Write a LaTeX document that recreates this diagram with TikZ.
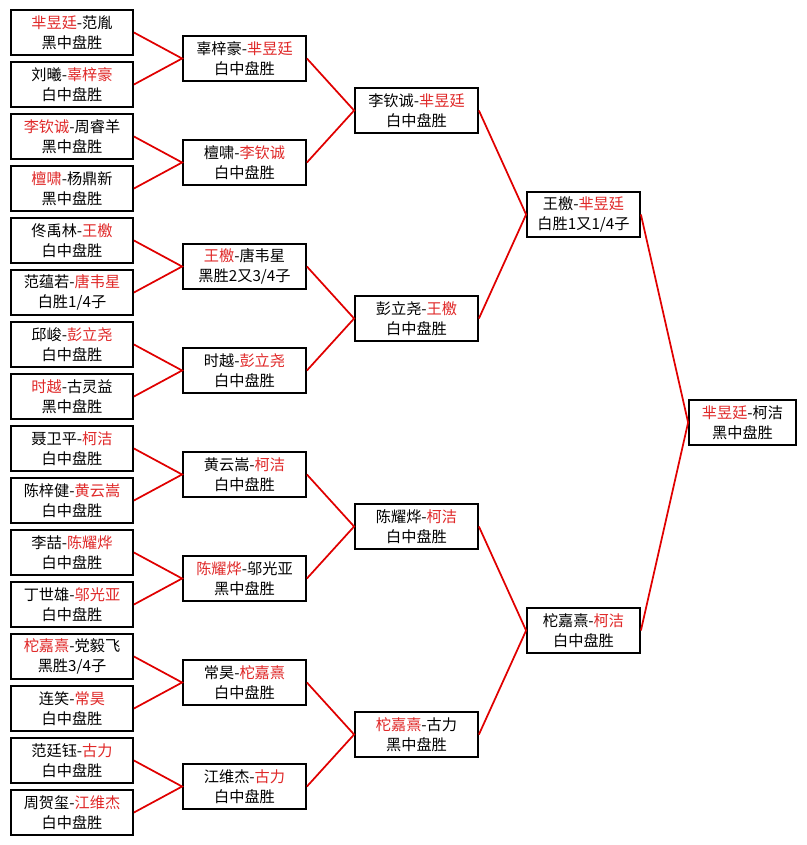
\documentclass[tikz,border=0pt]{standalone}
\usepackage{xcolor}
\usepackage{fontspec}
\usepackage{tikz}
\usetikzlibrary{positioning}
\newfontfamily\cjk{Noto Sans CJK SC}
\definecolor{winred}{HTML}{E02828}
\definecolor{linkred}{HTML}{E00000}
\newcommand{\win}[1]{\textcolor{winred}{#1}}

\begin{document}
\begin{tikzpicture}[x=0.75pt,y=-0.75pt,every node/.style={font=\cjk\fontsize{11.4}{15}\selectfont,align=center},box/.style={draw=black,fill=white,line width=1.4pt,inner sep=0pt,minimum height=33.5pt},r1/.style={box,minimum width=91.5pt},r2/.style={box,minimum width=92.2pt},r4/.style={box,minimum width=84.7pt},fin/.style={box,minimum width=80.2pt},link/.style={draw=linkred,line width=1.3pt}]
\useasboundingbox[fill=white] (0,0) rectangle (806,845);
% first round
\node[r1] (a1) at (72,32.5) {\win{芈昱廷}-范胤\\ 黑中盘胜};
\node[r1] (a2) at (72,84.5) {刘曦-\win{辜梓豪}\\ 白中盘胜};
\node[r1] (a3) at (72,136.5) {\win{李钦诚}-周睿羊\\ 黑中盘胜};
\node[r1] (a4) at (72,188.5) {\win{檀啸}-杨鼎新\\ 黑中盘胜};
\node[r1] (a5) at (72,240.5) {佟禹林-\win{王檄}\\ 白中盘胜};
\node[r1] (a6) at (72,292.5) {范蕴若-\win{唐韦星}\\ 白胜1/4子};
\node[r1] (a7) at (72,344.5) {邱峻-\win{彭立尧}\\ 白中盘胜};
\node[r1] (a8) at (72,396.5) {\win{时越}-古灵益\\ 黑中盘胜};
\node[r1] (a9) at (72,448.5) {聂卫平-\win{柯洁}\\ 白中盘胜};
\node[r1] (a10) at (72,500.5) {陈梓健-\win{黄云嵩}\\ 白中盘胜};
\node[r1] (a11) at (72,552.5) {李喆-\win{陈耀烨}\\ 白中盘胜};
\node[r1] (a12) at (72,604.5) {丁世雄-\win{邬光亚}\\ 白中盘胜};
\node[r1] (a13) at (72,656.5) {\win{柁嘉熹}-党毅飞\\ 黑胜3/4子};
\node[r1] (a14) at (72,708.5) {连笑-\win{常昊}\\ 白中盘胜};
\node[r1] (a15) at (72,760.5) {范廷钰-\win{古力}\\ 白中盘胜};
\node[r1] (a16) at (72,812.5) {周贺玺-\win{江维杰}\\ 白中盘胜};
% second round
\node[r2] (b1) at (244.5,58.5) {辜梓豪-\win{芈昱廷}\\ 白中盘胜};
\node[r2] (b2) at (244.5,162.5) {檀啸-\win{李钦诚}\\ 白中盘胜};
\node[r2] (b3) at (244.5,266.5) {\win{王檄}-唐韦星\\ 黑胜2又3/4子};
\node[r2] (b4) at (244.5,370.5) {时越-\win{彭立尧}\\ 白中盘胜};
\node[r2] (b5) at (244.5,474.5) {黄云嵩-\win{柯洁}\\ 白中盘胜};
\node[r2] (b6) at (244.5,578.5) {\win{陈耀烨}-邬光亚\\ 黑中盘胜};
\node[r2] (b7) at (244.5,682.5) {常昊-\win{柁嘉熹}\\ 白中盘胜};
\node[r2] (b8) at (244.5,786.5) {江维杰-\win{古力}\\ 白中盘胜};
% quarter finals
\node[r2] (c1) at (416.5,110.5) {李钦诚-\win{芈昱廷}\\ 白中盘胜};
\node[r2] (c2) at (416.5,318.5) {彭立尧-\win{王檄}\\ 白中盘胜};
\node[r2] (c3) at (416.5,526.5) {陈耀烨-\win{柯洁}\\ 白中盘胜};
\node[r2] (c4) at (416.5,734.5) {\win{柁嘉熹}-古力\\ 黑中盘胜};
% semi finals and final
\node[r4] (d1) at (583.5,214.5) {王檄-\win{芈昱廷}\\ 白胜1又1/4子};
\node[r4] (d2) at (583.5,630.5) {柁嘉熹-\win{柯洁}\\ 白中盘胜};
\node[fin] (final) at (742.5,422.5) {\win{芈昱廷}-柯洁\\ 黑中盘胜};
\draw[link] (a1.east)--(b1.west)--(a2.east);
\draw[link] (a3.east)--(b2.west)--(a4.east);
\draw[link] (a5.east)--(b3.west)--(a6.east);
\draw[link] (a7.east)--(b4.west)--(a8.east);
\draw[link] (a9.east)--(b5.west)--(a10.east);
\draw[link] (a11.east)--(b6.west)--(a12.east);
\draw[link] (a13.east)--(b7.west)--(a14.east);
\draw[link] (a15.east)--(b8.west)--(a16.east);
\draw[link] (b1.east)--(c1.west)--(b2.east);
\draw[link] (b3.east)--(c2.west)--(b4.east);
\draw[link] (b5.east)--(c3.west)--(b6.east);
\draw[link] (b7.east)--(c4.west)--(b8.east);
\draw[link] (c1.east)--(d1.west)--(c2.east);
\draw[link] (c3.east)--(d2.west)--(c4.east);
\draw[link] (d1.east)--(final.west)--(d2.east);
\end{tikzpicture}
\end{document}
